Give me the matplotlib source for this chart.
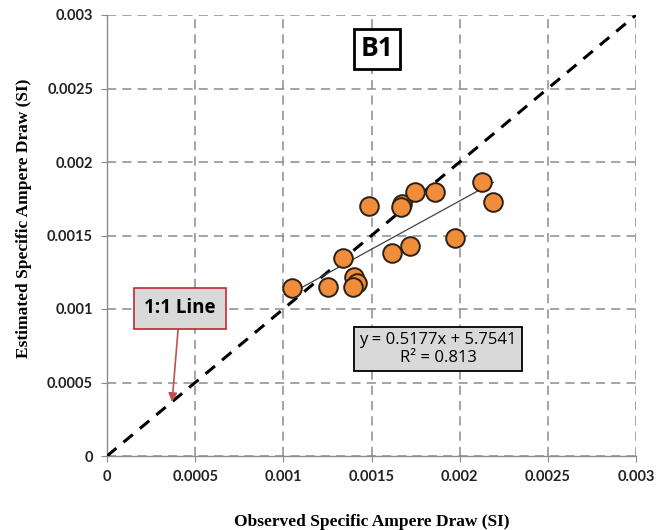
import numpy as np
import matplotlib
matplotlib.use("Agg")
import matplotlib.pyplot as plt

# Observed vs. estimated specific ampere draw (SI)
observed = [0.001047, 0.001252, 0.001338, 0.001399, 0.001420, 0.001393,
            0.001488, 0.001618, 0.001720, 0.001673, 0.001669, 0.001747,
            0.001862, 0.001974, 0.002128, 0.002191]
estimated = [0.001145, 0.001150, 0.001349, 0.001216, 0.001175, 0.001152,
             0.001700, 0.001379, 0.001429, 0.001712, 0.001696, 0.001794,
             0.001794, 0.001481, 0.001864, 0.001730]
ticks = [0, 0.0005, 0.001, 0.0015, 0.002, 0.0025, 0.003]
tick_labels = ["0", "0.0005", "0.001", "0.0015", "0.002", "0.0025", "0.003"]
equation_text = "y = 0.5177x + 5.7541\nR\u00b2 = 0.813"
panel_label = "B1"

fig = plt.figure(figsize=(6.57, 5.30), dpi=100)
ax = fig.add_axes([107 / 657, 1 - 456 / 530, 529 / 657, 441 / 530])

ax.set_xlim(0, 0.003)
ax.set_ylim(0, 0.003)
ax.set_xticks(ticks)
ax.set_yticks(ticks)
ax.set_xticklabels(tick_labels)
ax.set_yticklabels(tick_labels)
for lab in ax.get_xticklabels() + ax.get_yticklabels():
    lab.set_family("Lato")
    lab.set_fontweight("bold")
    lab.set_fontsize(10.5)
    lab.set_color("#222222")
ax.tick_params(axis="both", direction="out", length=4, color="#888888", pad=6)

ax.grid(True, color="#8c8c8c", linestyle=(0, (6, 4)), linewidth=1.1)
ax.set_axisbelow(True)
for s in ("top", "right"):
    ax.spines[s].set_visible(False)
for s in ("left", "bottom"):
    ax.spines[s].set_color("#8c8c8c")
    ax.spines[s].set_linewidth(1.0)

# 1:1 line
ax.plot([0, 0.003], [0, 0.003], color="black", linestyle=(0, (4, 3)),
        linewidth=2.2, zorder=3)

# Linear trend through the data
coef = np.polyfit(observed, estimated, 1)
xs = np.array([min(observed), max(observed)])
ax.plot(xs, np.polyval(coef, xs), color="#404040", linewidth=0.9, zorder=4)

ax.scatter(observed, estimated, s=180, facecolor="#EF8D3A",
           edgecolor="#2b2015", linewidth=1.4, zorder=5)

ax.set_xlabel("Observed Specific Ampere Draw (SI)", family="Liberation Serif",
              fontweight="bold", fontsize=12.5, labelpad=22)
ax.set_ylabel("Estimated Specific Ampere Draw (SI)", family="Liberation Serif",
              fontweight="bold", fontsize=12.5)
ax.yaxis.set_label_coords(-0.142, 0.54)

# Panel label
ax.text(0.001530, 0.002770, panel_label, ha="center", va="center",
        family="Open Sans", fontweight="bold", fontsize=19,
        bbox=dict(boxstyle="square,pad=0.25", facecolor="white",
                  edgecolor="black", linewidth=2), zorder=6)

# Regression equation box
ax.text(0.001877, 0.000728, equation_text, ha="center", va="center",
        family="Open Sans", fontsize=12, linespacing=1.15,
        bbox=dict(boxstyle="square,pad=0.3", facecolor="#D9D9D9",
                  edgecolor="black", linewidth=1.3), zorder=6)

# 1:1 line callout
ax.annotate("1:1 Line", xy=(0.000369, 0.000367), xytext=(0.000413, 0.001004),
            ha="center", va="center", family="Open Sans", fontweight="bold",
            fontsize=13.5,
            bbox=dict(boxstyle="square,pad=0.55", facecolor="#D9D9D9",
                      edgecolor="#C0272D", linewidth=1.2),
            arrowprops=dict(arrowstyle="-|>", color="#C0504D", lw=1.2,
                            mutation_scale=13, shrinkA=0, shrinkB=0),
            zorder=6)

fig.savefig("out.png", dpi=100)
